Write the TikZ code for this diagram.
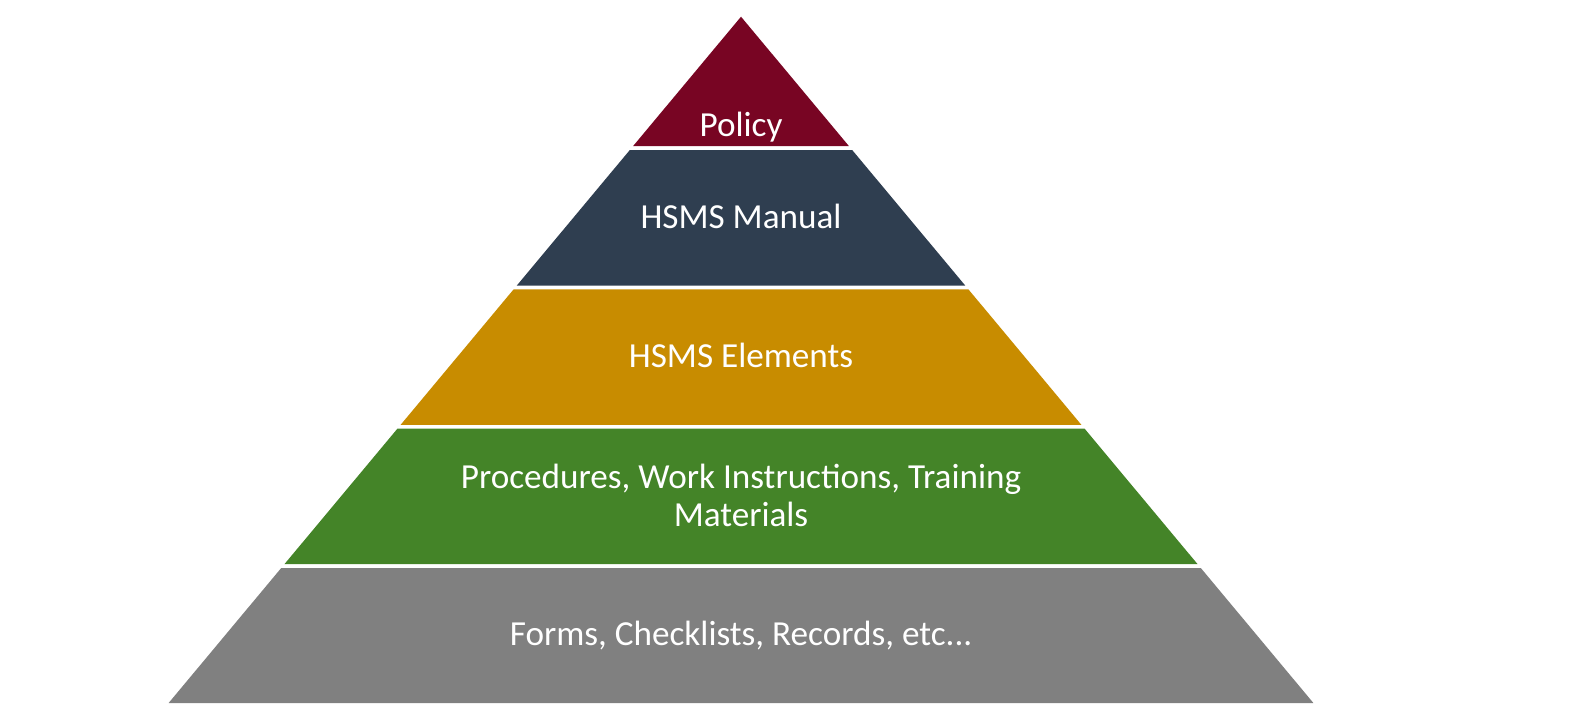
\documentclass[tikz,border=0pt]{standalone}
\usepackage{fontspec}
\setmainfont{Carlito}
\definecolor{policyred}{RGB}{120,5,35}
\definecolor{manualblue}{RGB}{47,62,80}
\definecolor{elementgold}{RGB}{200,140,0}
\definecolor{procgreen}{RGB}{68,132,40}
\definecolor{formgrey}{RGB}{128,128,128}

\begin{document}
\begin{tikzpicture}[x=0.01cm,y=-0.01cm,layer label/.style={text=white,align=center,font=\fontsize{10}{10.8}\selectfont}]
  \useasboundingbox (0,0) rectangle (1577,715);
  %layers, top to bottom
  \foreach \ytop/\ybot/\col in {16.7/146/policyred,150/285.6/manualblue,289.4/424.8/elementgold,428.7/564.1/procgreen,568/703/formgrey}{
    \fill[\col] ({741-0.834*(\ytop-16.7)},\ytop) -- ({741+0.834*(\ytop-16.7)},\ytop) -- ({741+0.834*(\ybot-16.7)},\ybot) -- ({741-0.834*(\ybot-16.7)},\ybot) -- cycle;
  }
  %labels
  \node[layer label] (policy) at (741,127) {Policy};
  \node[layer label] (manual) at (741,216) {HSMS Manual};
  \node[layer label] (elements) at (741,355) {HSMS Elements};
  \node[layer label] (procedures) at (741,495) {Procedures, Work Instructions, Training\\Materials};
  \node[layer label] (forms) at (741,636) {Forms, Checklists, Records, etc.{}.{}.};
\end{tikzpicture}
\end{document}
